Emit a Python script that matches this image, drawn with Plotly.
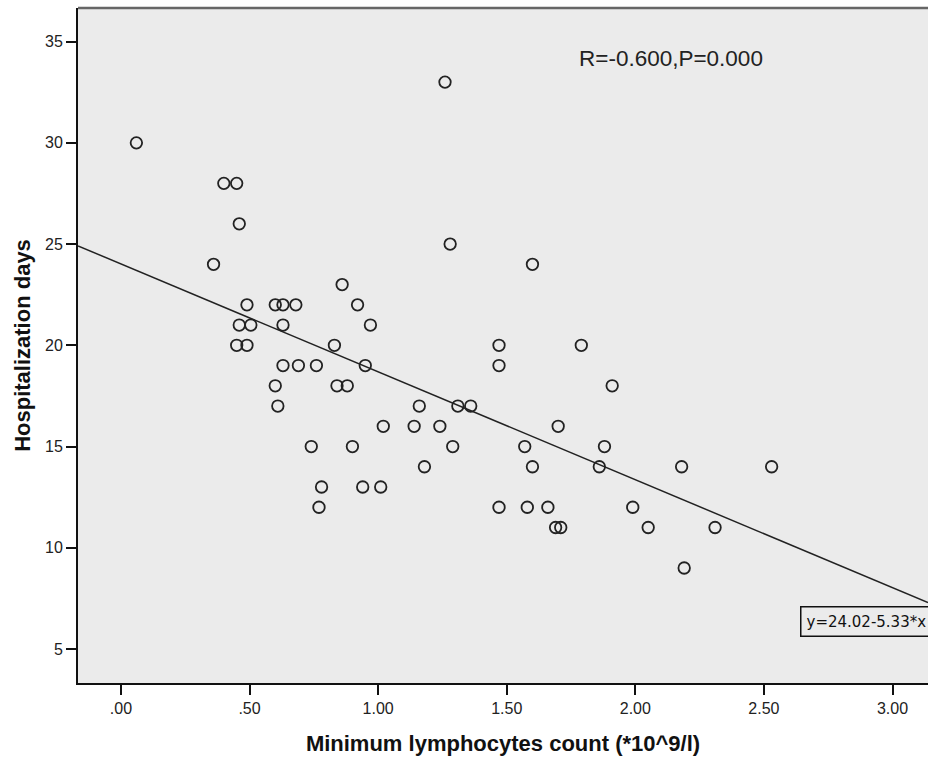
import numpy as np
import plotly.graph_objects as go

# Data
lymphocytes = [0.06, 0.40, 0.45, 0.46, 0.36, 0.49, 0.46, 0.505, 0.45, 0.49,
               0.60, 0.63, 0.68, 0.63, 0.63, 0.69, 0.76, 0.60, 0.61, 0.74,
               0.78, 0.77, 1.26, 1.28, 1.60, 0.86, 0.92, 0.97, 0.83, 1.47,
               1.79, 1.47, 0.95, 0.84, 0.88, 1.91, 1.16, 1.31, 1.36, 1.02,
               1.14, 1.24, 1.70, 0.90, 1.29, 1.57, 1.88, 1.18, 1.60, 1.86,
               0.94, 1.01, 1.47, 1.58, 1.66, 1.69, 1.71, 2.18, 2.53, 1.99,
               2.05, 2.31, 2.19]
hosp_days = [30, 28, 28, 26, 24, 22, 21, 21, 20, 20,
             22, 22, 22, 21, 19, 19, 19, 18, 17, 15,
             13, 12, 33, 25, 24, 23, 22, 21, 20, 20,
             20, 19, 19, 18, 18, 18, 17, 17, 17, 16,
             16, 16, 16, 15, 15, 15, 15, 14, 14, 14,
             13, 13, 12, 12, 12, 11, 11, 14, 14, 12,
             11, 11, 9]

fit_intercept = 24.02
fit_slope = -5.33

x_tick_vals = [0.0, 0.5, 1.0, 1.5, 2.0, 2.5, 3.0]
x_tick_text = [".00", ".50", "1.00", "1.50", "2.00", "2.50", "3.00"]
y_tick_vals = [5, 10, 15, 20, 25, 30, 35]

x_range = [-0.167, 3.138]
y_range = [3.32, 36.66]

stats_text = "R=-0.600,P=0.000"
eq_text = "y=24.02-5.33*x"

line_x = np.array(x_range)
line_y = fit_intercept + fit_slope * line_x

fig = go.Figure()
fig.add_trace(go.Scatter(
    x=line_x, y=line_y, mode="lines",
    line=dict(color="#222222", width=1.5),
    hoverinfo="skip", showlegend=False, cliponaxis=True,
))
fig.add_trace(go.Scatter(
    x=lymphocytes, y=hosp_days, mode="markers",
    marker=dict(symbol="circle-open", size=11.5, color="#222222",
                line=dict(width=1.8, color="#222222")),
    showlegend=False,
))

fig.add_annotation(
    x=1.774, y=34.17, xref="x", yref="y", text=stats_text, showarrow=False,
    xanchor="left", yanchor="middle",
    font=dict(family="Arial, Liberation Sans", size=22.5, color="#222222"),
)
fig.add_annotation(
    x=2.64, y=6.35, xref="x", yref="y", text=eq_text, showarrow=False,
    xanchor="left", yanchor="middle", align="left", width=150,
    bordercolor="#111111", borderwidth=1.5, borderpad=5, bgcolor="#EBEBEB",
    font=dict(family="DejaVu Sans", size=15, color="#111111"),
)

fig.add_shape(type="line", xref="paper", yref="paper", x0=0, x1=1, y0=1, y1=1,
              line=dict(color="#666666", width=2.5))

axis_font = dict(family="Arial, Liberation Sans", size=16, color="#222222")
title_font = dict(family="Arial, Liberation Sans", size=22, color="#111111")

fig.update_xaxes(
    range=x_range, tickvals=x_tick_vals, ticktext=x_tick_text,
    showgrid=False, zeroline=False, showline=True, linecolor="#111111", linewidth=2,
    ticks="outside", ticklen=10, tickwidth=2, tickcolor="#111111",
    tickfont=axis_font,
    title=dict(text="<b>Minimum lymphocytes count (*10^9/l)</b>", font=title_font, standoff=19),
)
fig.update_yaxes(
    range=y_range, tickvals=y_tick_vals,
    showgrid=False, zeroline=False, showline=True, linecolor="#111111", linewidth=2,
    ticks="outside", ticklen=10, tickwidth=2, tickcolor="#111111",
    tickfont=axis_font,
    title=dict(text="<b>Hospitalization days</b>", font=title_font, standoff=8),
)

fig.update_layout(
    width=928, height=757,
    margin=dict(l=78, r=0, t=7.5, b=73.7),
    plot_bgcolor="#EBEBEB", paper_bgcolor="#FFFFFF",
    showlegend=False,
)

fig.write_html(
    "out.html",
    config={"displayModeBar": False},
    post_script="document.body.style.margin='0';document.body.style.overflow='hidden';",
)
